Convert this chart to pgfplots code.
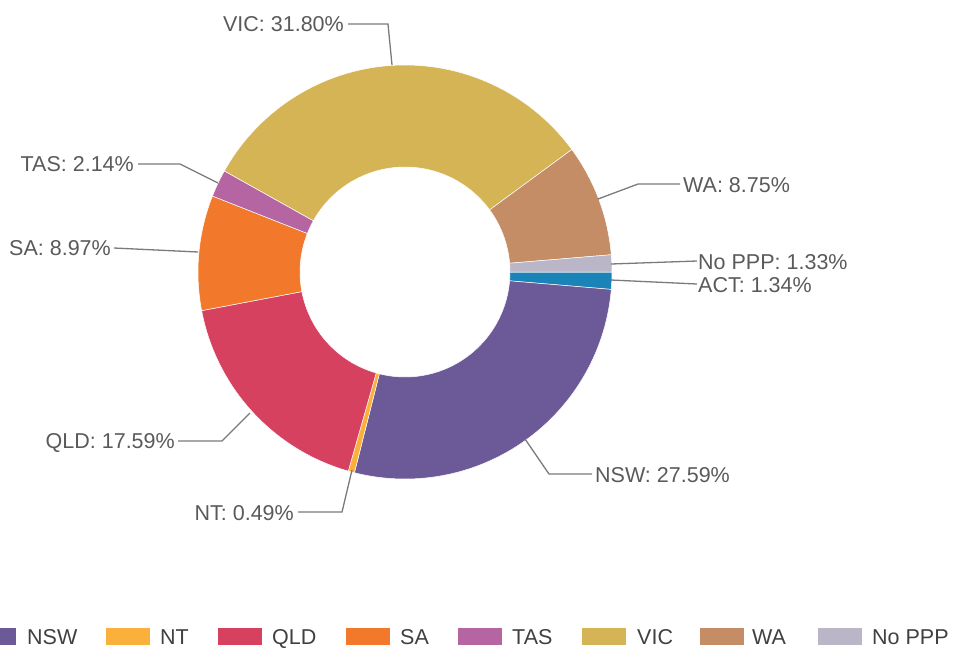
\documentclass[border=0pt]{standalone}
\usepackage{pgfplots}
\usepackage{pgfplotstable}
\pgfplotsset{compat=1.18}
\usepackage{fontspec}
\setmainfont{Liberation Sans}
\definecolor{cACT}{HTML}{1A84B8}
\definecolor{cNSW}{HTML}{6C5A98}
\definecolor{cNT}{HTML}{FBB03B}
\definecolor{cQLD}{HTML}{D6415F}
\definecolor{cSA}{HTML}{F2792B}
\definecolor{cTAS}{HTML}{B566A2}
\definecolor{cVIC}{HTML}{D4B455}
\definecolor{cWA}{HTML}{C48D66}
\definecolor{cNoPPP}{HTML}{BAB6C8}
\definecolor{txt}{HTML}{5A5A5A}
\definecolor{legtxt}{HTML}{404040}
\definecolor{leader}{HTML}{7A7A7A}

\pgfplotstableread{
name value col
ACT 1.34 cACT
NSW 27.59 cNSW
NT 0.49 cNT
QLD 17.59 cQLD
SA 8.97 cSA
TAS 2.14 cTAS
VIC 31.80 cVIC
WA 8.75 cWA
NoPPP 1.33 cNoPPP
}\shares

\begin{document}
\begin{tikzpicture}
\useasboundingbox (0,0) rectangle (956pt,649pt);
\begin{axis}[at={(0,0)}, anchor=south west, width=956pt, height=649pt,
  scale only axis, xmin=0, xmax=956, ymin=0, ymax=649, y dir=reverse,
  hide axis, clip=true]
\def\slcum{0}
\pgfplotsforeachungrouped \i in {0,...,8}{%
  \pgfplotstablegetelem{\i}{value}\of{\shares}\let\slval\pgfplotsretval
  \pgfplotstablegetelem{\i}{col}\of{\shares}\let\slcol\pgfplotsretval
  \pgfmathsetmacro\sla{-3.6*\slcum}%
  \pgfmathsetmacro\slb{-3.6*(\slcum+\slval)}%
  \pgfmathsetmacro\slc{\slb+180}%
  \pgfmathsetmacro\slcum{\slcum+\slval}%
  \edef\temp{\noexpand\fill[\slcol, draw=white, line width=0.5pt] (axis cs:405,272) ++(\sla:207pt) arc[start angle=\sla, end angle=\slb, radius=207pt] -- ++(\slc:102pt) arc[start angle=\slb, end angle=\sla, radius=105pt] -- cycle;}%
  \temp
}
% leader lines
\begin{scope}[leader, line width=1.3pt]
\draw (axis cs:348,24) -- (axis cs:388,24) -- (axis cs:392,65);
\draw (axis cs:598,199) -- (axis cs:638,184) -- (axis cs:680,184);
\draw (axis cs:611,264) -- (axis cs:697,261);
\draw (axis cs:611,280) -- (axis cs:697,284);
\draw (axis cs:525,439) -- (axis cs:549,474) -- (axis cs:592,474);
\draw (axis cs:352,470) -- (axis cs:342,512) -- (axis cs:298,512);
\draw (axis cs:250,413) -- (axis cs:222,441) -- (axis cs:178,441);
\draw (axis cs:198,252) -- (axis cs:114,248);
\draw (axis cs:218,183) -- (axis cs:180,164) -- (axis cs:138,164);
\end{scope}
\begin{scope}[every node/.style={inner sep=0pt, text=txt, font=\fontsize{21.5}{25}\selectfont}]
\node[anchor=base east] at (axis cs:344,31.7) {VIC: 31.80\%};
\node[anchor=base west] at (axis cs:683,192.7) {WA: 8.75\%};
\node[anchor=base west] at (axis cs:698,269.7) {No PPP: 1.33\%};
\node[anchor=base west] at (axis cs:698,292.7) {ACT: 1.34\%};
\node[anchor=base west] at (axis cs:595,482.7) {NSW: 27.59\%};
\node[anchor=base east] at (axis cs:294,520.7) {NT: 0.49\%};
\node[anchor=base east] at (axis cs:175,448.7) {QLD: 17.59\%};
\node[anchor=base east] at (axis cs:111,255.7) {SA: 8.97\%};
\node[anchor=base east] at (axis cs:134,171.7) {TAS: 2.14\%};
\end{scope}
% legend
\fill[cNSW] (axis cs:-28,628) rectangle (axis cs:16,645);
\fill[cNT] (axis cs:106,628) rectangle (axis cs:150,645);
\fill[cQLD] (axis cs:218,628) rectangle (axis cs:262,645);
\fill[cSA] (axis cs:346,628) rectangle (axis cs:390,645);
\fill[cTAS] (axis cs:458,628) rectangle (axis cs:502,645);
\fill[cVIC] (axis cs:582,628) rectangle (axis cs:626,645);
\fill[cWA] (axis cs:700,628) rectangle (axis cs:744,645);
\fill[cNoPPP] (axis cs:818,628) rectangle (axis cs:862,645);
\begin{scope}[every node/.style={inner sep=0pt, anchor=base west, text=legtxt, font=\fontsize{21.5}{25}\selectfont}]
\node at (axis cs:27,644.5) {NSW};
\node at (axis cs:160,644.5) {NT};
\node at (axis cs:272,644.5) {QLD};
\node at (axis cs:400,644.5) {SA};
\node at (axis cs:512,644.5) {TAS};
\node at (axis cs:637,644.5) {VIC};
\node at (axis cs:752,644.5) {WA};
\node at (axis cs:872,644.5) {No PPP};
\end{scope}
\end{axis}
\end{tikzpicture}
\end{document}
